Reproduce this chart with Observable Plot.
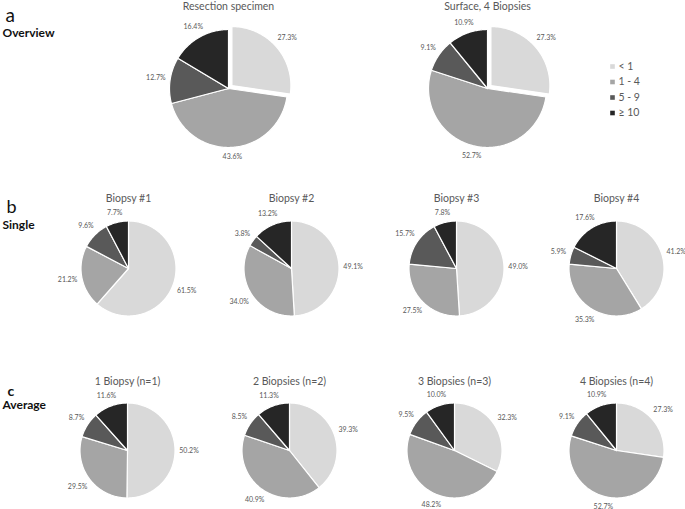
<!DOCTYPE html>
<html>
<head>
<meta charset="utf-8">
<script src="https://cdn.jsdelivr.net/npm/d3@7"></script>
<script src="https://cdn.jsdelivr.net/npm/@observablehq/plot@0.6"></script>
<style>
  html, body { margin: 0; padding: 0; background: #fff; }
  #chart svg { display: block; }
</style>
</head>
<body>
<div id="chart"></div>
<script>
// ---- data ----
const categories = ["< 1", "1 - 4", "5 - 9", "≥ 10"];
const pieTitles = [
  "Resection specimen", "Surface, 4 Biopsies",
  "Biopsy #1", "Biopsy #2", "Biopsy #3", "Biopsy #4",
  "1 Biopsy (n=1)", "2 Biopsies (n=2)", "3 Biopsies (n=3)", "4 Biopsies (n=4)"
];
const resection   = [27.3, 43.6, 12.7, 16.4];
const surface4    = [27.3, 52.7, 9.1, 10.9];
const biopsy1     = [61.5, 21.2, 9.6, 7.7];
const biopsy2     = [49.1, 34.0, 3.8, 13.2];
const biopsy3     = [49.0, 27.5, 15.7, 7.8];
const biopsy4     = [41.2, 35.3, 5.9, 17.6];
const avg1        = [50.2, 29.5, 8.7, 11.6];
const avg2        = [39.3, 40.9, 8.5, 11.3];
const avg3        = [32.3, 48.2, 9.5, 10.0];
const avg4        = [27.3, 52.7, 9.1, 10.9];
const panelLetters = ["a", "b", "c"];
const panelNames = ["Overview", "Single", "Average"];

// ---- styling / layout ----
const grays = ["#d9d9d9", "#a5a5a5", "#595959", "#262626"];
const series = [resection, surface4, biopsy1, biopsy2, biopsy3, biopsy4, avg1, avg2, avg3, avg4];
const layout = [
  {cx: 228, cy: 88, r: 59, explode: 4.5, ty: 6},
  {cx: 487, cy: 88, r: 59, explode: 4.5, ty: 6},
  {cx: 128, cy: 268, r: 47.5, explode: 0, ty: 198},
  {cx: 291, cy: 268, r: 47.5, explode: 0, ty: 198},
  {cx: 456, cy: 268, r: 47.5, explode: 0, ty: 198},
  {cx: 616, cy: 268, r: 47.5, explode: 0, ty: 198},
  {cx: 127, cy: 450, r: 47.5, explode: 0, ty: 381},
  {cx: 289, cy: 450, r: 47.5, explode: 0, ty: 381},
  {cx: 454, cy: 450, r: 47.5, explode: 0, ty: 381},
  {cx: 616, cy: 450, r: 47.5, explode: 0, ty: 381}
];

const slicePts = [];
const labels = [];
const titles = [];
const pie = d3.pie().sort(null).value(d => d);

series.forEach((vals, i) => {
  const L = layout[i];
  titles.push({x: L.cx, y: L.ty, text: pieTitles[i]});
  pie(vals).forEach((a, j) => {
    const mid = (a.startAngle + a.endAngle) / 2;
    const off = j === 0 ? L.explode : 0;
    const ox = L.cx + off * Math.sin(mid), oy = L.cy - off * Math.cos(mid);
    const id = i + "-" + j;
    slicePts.push({id, cat: categories[j], x: ox, y: oy});
    const n = Math.max(2, Math.ceil((a.endAngle - a.startAngle) / (Math.PI / 180)));
    for (let k = 0; k <= n; k++) {
      const t = a.startAngle + (a.endAngle - a.startAngle) * k / n;
      slicePts.push({id, cat: categories[j], x: ox + L.r * Math.sin(t), y: oy - L.r * Math.cos(t)});
    }
    slicePts.push({id, cat: categories[j], x: ox, y: oy});
    const txt = vals[j].toFixed(1) + "%";
    const w = txt.length * 3.6, h = 7;
    const dist = L.r + off + 5 + Math.abs(Math.sin(mid)) * w / 2 + Math.abs(Math.cos(mid)) * h / 2;
    labels.push({x: L.cx + dist * Math.sin(mid), y: L.cy - dist * Math.cos(mid), text: txt});
  });
});

const legend = categories.map((c, i) => ({cat: c, x: 612, y: 66 + i * 15.5}));
const panels = panelLetters.map((l, i) => ({
  letter: l, name: panelNames[i],
  lx: [5, 6, 7][i], ly: [15, 207, 391][i], ls: [19, 18, 14][i], lw: ["normal", "normal", "bold"][i],
  ny: [33, 225, 405][i]
}));

const chart = Plot.plot({
  width: 685,
  height: 509,
  margin: 0,
  style: {fontFamily: "Lato, 'Open Sans', sans-serif", background: "#fff", color: "#595959"},
  x: {domain: [0, 685], axis: null},
  y: {domain: [0, 509], reverse: true, axis: null},
  color: {domain: categories, range: grays},
  marks: [
    Plot.line(slicePts, {x: "x", y: "y", z: "id", fill: "cat", stroke: "#fff", strokeWidth: 1.2, strokeLinejoin: "round", curve: "linear"}),
    Plot.text(labels, {x: "x", y: "y", text: "text", fontSize: 7, fill: "#595959"}),
    Plot.text(titles, {x: "x", y: "y", text: "text", fontSize: 10.5, fill: "#595959"}),
    Plot.dot(legend, {x: "x", y: "y", fill: "cat", symbol: "square", r: 2.6, stroke: null}),
    Plot.text(legend, {x: d => d.x + 6, y: "y", text: "cat", textAnchor: "start", fontSize: 10.5, fill: "#595959"}),
    ...panels.map(p => Plot.text([p], {x: "lx", y: "ly", text: "letter", textAnchor: "start", fontSize: p.ls, fontWeight: p.lw, fill: "#111"})),
    Plot.text(panels, {x: 2, y: "ny", text: "name", textAnchor: "start", fontSize: 12, fontWeight: "bold", fill: "#111"})
  ]
});
document.getElementById("chart").appendChild(chart);
</script>
</body>
</html>
